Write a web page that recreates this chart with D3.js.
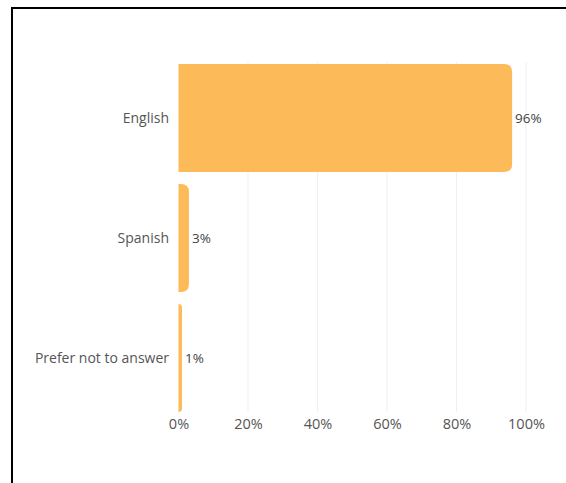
<!DOCTYPE html>
<html>
<head>
<meta charset="utf-8">
<script src="https://cdn.jsdelivr.net/npm/d3@7/dist/d3.min.js"></script>
<style>
  html, body { margin: 0; padding: 0; background: #fff; }
  svg { display: block; }
</style>
</head>
<body>
<script>
// Preferred language of respondents (share of responses)
const categories = ["English", "Spanish", "Prefer not to answer"];
const shares = [96, 3, 1];
const tickValues = [0, 20, 40, 60, 80, 100];

const W = 566, H = 483;
const margin = { top: 64, left: 178.5, right: 40, bottom: 73 };
const barColor = "#FDBA58";
const textColor = "#555";
const font = "'Open Sans', sans-serif";

const svg = d3.select("body").append("svg")
  .attr("width", W).attr("height", H);

// frame lines
svg.append("line").attr("x1", 11).attr("x2", W).attr("y1", 8).attr("y2", 8)
  .attr("stroke", "#000").attr("stroke-width", 2);
svg.append("line").attr("x1", 12).attr("x2", 12).attr("y1", 7).attr("y2", H)
  .attr("stroke", "#000").attr("stroke-width", 2);

const x = d3.scaleLinear().domain([0, 100]).range([margin.left, 526]);
const y = d3.scaleBand().domain(categories)
  .range([margin.top, 412]).paddingInner(0.1).paddingOuter(0.0);

// vertical gridlines
svg.append("g").selectAll("line").data(tickValues.slice(1)).join("line")
  .attr("x1", d => x(d)).attr("x2", d => x(d))
  .attr("y1", 62).attr("y2", 412)
  .attr("stroke", "#efefef").attr("stroke-width", 1);

// bars: square on the left, rounded on the right
function barPath(x0, x1, y0, h, r) {
  const w = x1 - x0;
  const rr = Math.min(r, w, h / 2);
  return `M${x0},${y0}H${x1 - rr}` +
    `Q${x1},${y0} ${x1},${y0 + rr}` +
    `V${y0 + h - rr}` +
    `Q${x1},${y0 + h} ${x1 - rr},${y0 + h}` +
    `H${x0}Z`;
}

const data = categories.map((c, i) => ({ c, v: shares[i] }));

svg.append("g").selectAll("path").data(data).join("path")
  .attr("d", d => barPath(x(0), x(d.v), y(d.c), y.bandwidth(), 8))
  .attr("fill", barColor);

// value labels
svg.append("g").selectAll("text").data(data).join("text")
  .attr("x", d => x(d.v) + 3)
  .attr("y", d => y(d.c) + y.bandwidth() / 2)
  .attr("dy", "0.35em")
  .attr("font-family", font).attr("font-size", 13.5)
  .attr("fill", "#444")
  .text(d => d.v + "%");

// category labels
svg.append("g").selectAll("text").data(data).join("text")
  .attr("x", 169)
  .attr("y", d => y(d.c) + y.bandwidth() / 2)
  .attr("dy", "0.35em")
  .attr("text-anchor", "end")
  .attr("font-family", font).attr("font-size", 14)
  .attr("fill", textColor)
  .text(d => d.c);

// x axis tick labels
const xAxis = d3.axisBottom(x).tickValues(tickValues)
  .tickFormat(d => d + "%").tickSize(0).tickPadding(7);
const gx = svg.append("g").attr("transform", "translate(0,412)").call(xAxis);
gx.select(".domain").remove();
gx.selectAll("text")
  .attr("font-family", font).attr("font-size", 14.5)
  .attr("fill", textColor);
</script>
</body>
</html>
